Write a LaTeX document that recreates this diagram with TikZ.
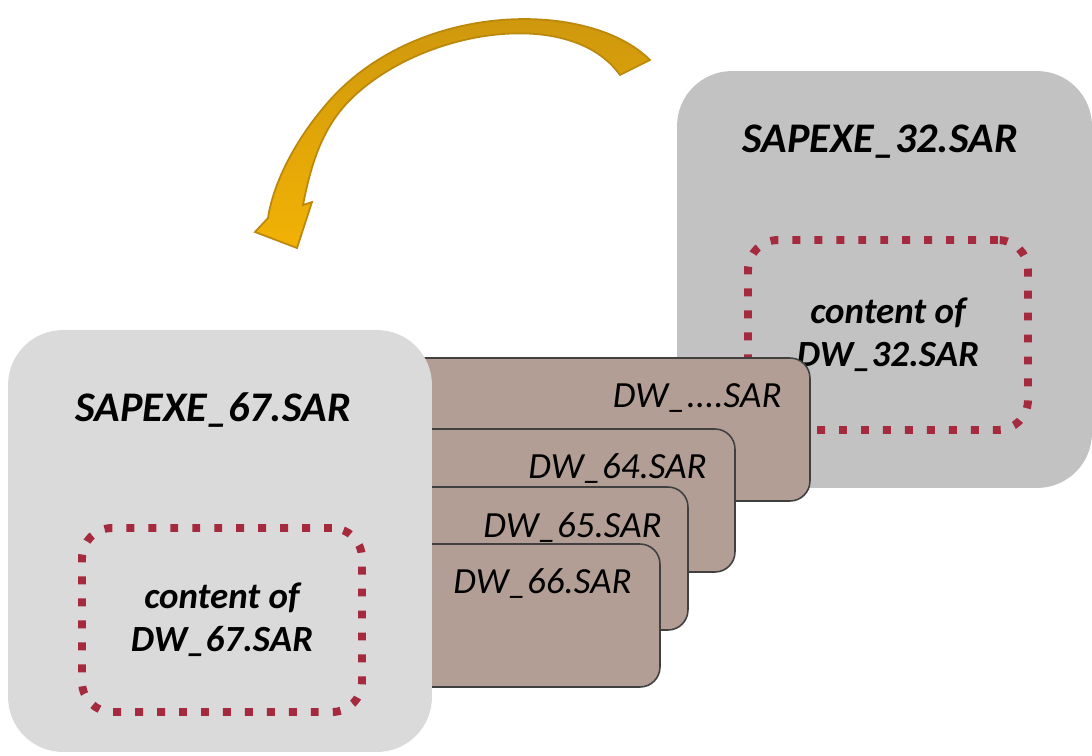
\documentclass[tikz,border=0pt]{standalone}
\usepackage{fontspec}
\setmainfont{Carlito}
\definecolor{lightbox}{RGB}{218,218,218}
\definecolor{darkbox}{RGB}{194,194,194}
\definecolor{dwbrown}{RGB}{178,158,148}
\definecolor{dotred}{RGB}{165,42,62}
\definecolor{arrowtop}{RGB}{204,150,14}
\definecolor{arrowbot}{RGB}{242,178,4}
\definecolor{arrowedge}{RGB}{188,136,12}

\begin{document}
\begin{tikzpicture}[x=0.02cm, y=-0.02cm,
      bigbox/.style={rectangle, rounded corners=1.1cm, inner sep=0pt},
      dwbox/.style={rectangle, draw=black!75, line width=0.9pt, fill=dwbrown,
                    rounded corners=0.4cm, inner sep=0pt, minimum height=2.86cm},
      dwlbl/.style={font=\fontsize{21}{24}\selectfont\itshape, inner sep=0pt, anchor=east},
      ttl/.style={font=\fontsize{24}{28}\selectfont\bfseries\itshape},
      content/.style={rectangle, draw=dotred, line width=4.5pt,
                      dash pattern=on 4.5pt off 8pt, rounded corners=0.6cm,
                      minimum width=5.6cm, align=center,
                      font=\fontsize{21}{24.5}\selectfont\bfseries\itshape},
    ]
    \useasboundingbox (0,0) rectangle (1092,755);

    % Right archive
    \node[bigbox, fill=darkbox, minimum width=8.3cm, minimum height=8.34cm]
      (sap32) at (884.5,279.5) {};
    \node[ttl] (t32) at (880,142) {SAPEXE\_32.SAR};
    \node[content, minimum height=3.8cm] (c32) at (888,335)
      {content of\\DW\_32.SAR};

    % Stack of DW files, back to front
    \node[dwbox, minimum width=8.6cm]  (dwx)  at (595,429.5) {};
    \node[dwlbl] (ldwx) at (782,398) {DW\_....SAR};
    \node[dwbox, minimum width=7.1cm]  (dw64) at (557.5,500.5) {};
    \node[dwlbl] (ldw64) at (707,468) {DW\_64.SAR};
    \node[dwbox, minimum width=6.16cm] (dw65) at (534,558.5) {};
    \node[dwlbl] (ldw65) at (662,527) {DW\_65.SAR};
    \node[dwbox, minimum width=5.6cm]  (dw66) at (520,615.5) {};
    \node[dwlbl] (ldw66) at (632,583) {DW\_66.SAR};

    % Left archive
    \node[bigbox, fill=lightbox, minimum width=8.48cm, minimum height=8.44cm]
      (sap67) at (220,541) {};
    \node[ttl] (t67) at (213,410) {SAPEXE\_67.SAR};
    \node[content, minimum height=3.68cm] (c67) at (222,620)
      {content of\\DW\_67.SAR};

    % Curved arrow from right archive to left archive
    \path[draw=arrowedge, line width=1pt, top color=arrowtop, bottom color=arrowbot]
      (650,60) .. controls (590,0) and (420,0) .. (330,100)
      .. controls (290,145) and (272,190) .. (268,218)
      -- (255,232) -- (297,248) -- (312,202) -- (303,205)
      .. controls (310,170) and (320,130) .. (350,100)
      .. controls (420,30) and (570,5) .. (620,75)
      -- cycle;

\end{tikzpicture}
\end{document}
